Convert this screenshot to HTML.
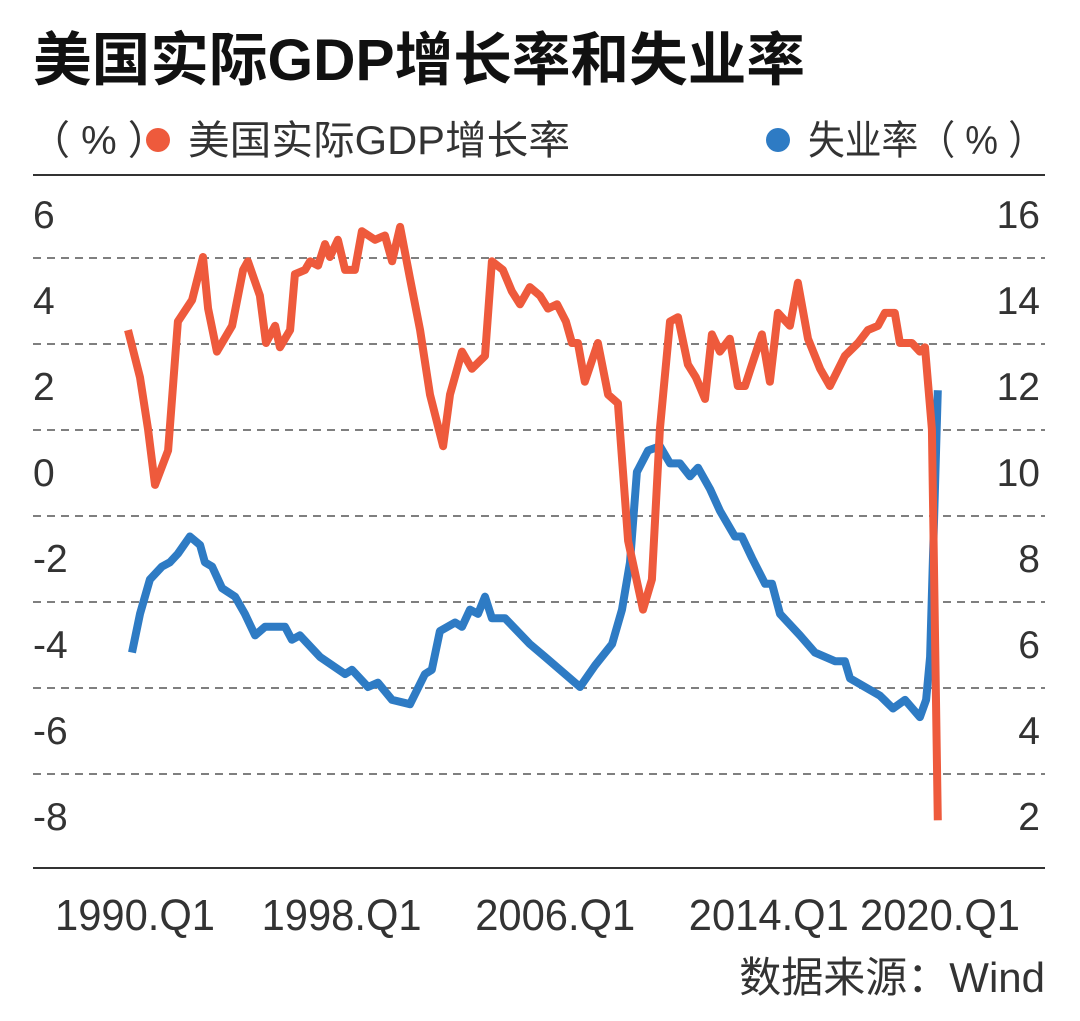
<!DOCTYPE html>
<html><head><meta charset="utf-8">
<style>
html,body{margin:0;padding:0;background:#fff;}
body{width:1080px;height:1016px;overflow:hidden;font-family:"Liberation Sans","Noto Sans CJK SC",sans-serif;}
</style></head>
<body>
<svg id="chart" width="1080" height="1016" xmlns="http://www.w3.org/2000/svg" font-family="Liberation Sans, Noto Sans CJK SC, sans-serif">
<text x="33" y="80" font-size="58" font-weight="bold" fill="#111" textLength="772" lengthAdjust="spacingAndGlyphs">美国实际GDP增长率和失业率</text>
<g font-size="40" fill="#333">
<text x="30" y="154">（ % ）</text>
<circle cx="158" cy="140" r="12" fill="#ee5a3c"/>
<text x="188" y="154" textLength="382" lengthAdjust="spacingAndGlyphs">美国实际GDP增长率</text>
<circle cx="778" cy="140" r="12" fill="#2e7bc4"/>
<text x="1045" y="154" text-anchor="end" textLength="237" lengthAdjust="spacingAndGlyphs">失业率（ % ）</text>
</g>
<line x1="33" y1="175" x2="1045" y2="175" stroke="#333" stroke-width="2"/>
<line x1="33" y1="868" x2="1045" y2="868" stroke="#333" stroke-width="2"/>
<g id="grid"></g><g id="ticks"></g><g id="series"></g>
<text x="1045" y="992" text-anchor="end" font-size="42" fill="#333">数据来源：Wind</text>
</svg>
<script>
const gdpYears=[1990.00,1990.45,1990.75,1991.01,1991.50,1991.87,1992.40,1992.81,1993.00,1993.33,1993.90,1994.31,1994.49,1994.94,1995.17,1995.51,1995.69,1996.07,1996.25,1996.63,1996.82,1997.12,1997.38,1997.56,1997.86,1998.13,1998.50,1998.76,1999.25,1999.62,1999.89,2000.19,2000.56,2000.94,2001.31,2001.80,2002.06,2002.51,2002.88,2003.37,2003.63,2004.04,2004.38,2004.68,2005.05,2005.43,2005.73,2006.07,2006.40,2006.63,2006.85,2007.11,2007.60,2007.98,2008.35,2008.73,2009.29,2009.62,2009.92,2010.30,2010.60,2010.97,2011.27,2011.61,2011.87,2012.17,2012.54,2012.84,2013.11,2013.37,2013.74,2014.04,2014.34,2014.79,2015.09,2015.47,2015.92,2016.29,2016.85,2017.34,2017.71,2018.09,2018.35,2018.72,2018.91,2019.36,2019.66,2019.85,2020.11,2020.33];
const gdpValues=[3.3,2.2,1.0,-0.3,0.5,3.5,4.0,5.0,3.8,2.8,3.4,4.7,4.9,4.1,3.0,3.4,2.9,3.3,4.6,4.7,4.9,4.8,5.3,5.0,5.4,4.7,4.7,5.6,5.4,5.5,4.9,5.7,4.5,3.3,1.8,0.6,1.8,2.8,2.4,2.7,4.9,4.7,4.2,3.9,4.3,4.1,3.8,3.9,3.5,3.0,3.0,2.1,3.0,1.8,1.6,-1.6,-3.2,-2.5,1.0,3.5,3.6,2.5,2.2,1.7,3.2,2.8,3.1,2.0,2.0,2.5,3.2,2.1,3.7,3.4,4.4,3.1,2.4,2.0,2.7,3.0,3.3,3.4,3.7,3.7,3.0,3.0,2.8,2.9,1.0,-8.1];
const unempYears=[1990.15,1990.45,1990.82,1991.27,1991.57,1991.87,1992.32,1992.70,1992.88,1993.15,1993.52,1994.01,1994.38,1994.76,1995.13,1995.88,1996.14,1996.44,1997.19,1998.13,1998.39,1998.99,1999.36,1999.89,2000.56,2001.12,2001.38,2001.68,2002.25,2002.51,2002.81,2003.11,2003.37,2003.63,2004.12,2005.05,2005.62,2006.93,2007.49,2008.13,2008.50,2008.80,2009.06,2009.48,2009.92,2010.30,2010.67,2011.05,2011.35,2011.80,2012.17,2012.73,2012.99,2013.37,2013.86,2014.12,2014.42,2015.17,2015.73,2016.48,2016.85,2017.04,2018.16,2018.65,2019.10,2019.66,2019.89,2020.04,2020.33];
const unempValues=[5.8,6.7,7.5,7.8,7.9,8.1,8.5,8.3,7.9,7.8,7.3,7.1,6.7,6.2,6.4,6.4,6.1,6.2,5.7,5.3,5.4,5.0,5.1,4.7,4.6,5.3,5.4,6.3,6.5,6.4,6.8,6.7,7.1,6.6,6.6,6.0,5.7,5.0,5.5,6.0,6.8,7.9,10.0,10.5,10.6,10.2,10.2,9.9,10.1,9.6,9.1,8.5,8.5,8.0,7.4,7.4,6.7,6.2,5.8,5.6,5.6,5.2,4.8,4.5,4.7,4.3,4.7,5.7,11.9];
const leftTicks=[6,4,2,0,-2,-4,-6,-8];
const rightTicks=[16,14,12,10,8,6,4,2];
const xTickYears=[1990,1998,2006,2014,2020];
const xTickLabels=["1990.Q1","1998.Q1","2006.Q1","2014.Q1","2020.Q1"];
const gridValues=[5,3,1,-1,-3,-5,-7];

const NS="http://www.w3.org/2000/svg";
const xS=y=>128+(y-1990)*26.7;
const yL=v=>472-v*43;
const yR=u=>472-(u-10)*43;
function mk(tag,attrs,parent,txt){const e=document.createElementNS(NS,tag);for(const k in attrs)e.setAttribute(k,attrs[k]);if(txt!==undefined)e.textContent=txt;parent.appendChild(e);return e;}
const grid=document.getElementById('grid'),ticks=document.getElementById('ticks'),series=document.getElementById('series');
gridValues.forEach(v=>{
  const l=mk('line',{x1:33,x2:1045,y1:yL(v)+1,y2:yL(v)+1,stroke:'#555','stroke-width':1.5,'stroke-dasharray':'8,6'},grid);
  
  
});
leftTicks.forEach(v=>{
  const t=mk('text',{x:33,y:yL(v)+14,'font-size':39,fill:'#333'},ticks,String(v));
  
  
});
rightTicks.forEach(u=>{
  const t=mk('text',{x:1040,y:yR(u)+14,'font-size':39,fill:'#333','text-anchor':'end'},ticks,String(u));
  
  
});
xTickYears.forEach((yr,i)=>{
  const t=mk('text',{x:xS(yr)+(i==4?11:(i==0?7:0)),y:930,'font-size':44,fill:'#333','text-anchor':'middle',textLength:160,lengthAdjust:'spacingAndGlyphs'},ticks,xTickLabels[i]);
  
  
});
const up=unempYears.map((y,i)=>xS(y).toFixed(1)+','+yR(unempValues[i]).toFixed(1)).join(' ');
const bl=mk('polyline',{points:up,fill:'none',stroke:'#2e7bc4','stroke-width':8,'stroke-linejoin':'round','stroke-linecap':'butt'},series);


const gp=gdpYears.map((y,i)=>xS(y).toFixed(1)+','+yL(gdpValues[i]).toFixed(1)).join(' ');
const rl=mk('polyline',{points:gp,fill:'none',stroke:'#ee5a3c','stroke-width':8,'stroke-linejoin':'round','stroke-linecap':'butt'},series);


</script>
</body></html>
